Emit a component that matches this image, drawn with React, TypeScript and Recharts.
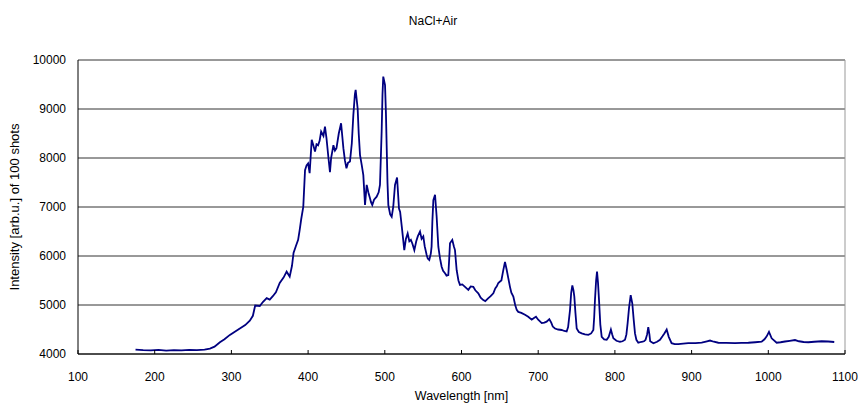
import React from 'react';
import { LineChart, Line, XAxis, YAxis, CartesianGrid, ReferenceLine } from 'recharts';

// Emission spectrum of NaCl in air, summed over 100 laser shots
const wavelengths = [
  175, 185, 195, 205, 215, 225, 235, 245, 255, 265, 272, 278, 285, 291, 298, 304, 311, 318, 324, 328,
  331, 337, 341, 346, 350, 354, 358, 363, 368, 372, 376, 379, 381, 384, 387, 389, 391, 393.7, 396, 398,
  400, 402, 404.7, 407, 409, 411, 413, 415, 417, 420, 422, 424, 426.4, 428.5, 430, 433, 435, 437, 440, 443,
  446, 448, 450, 452, 454.6, 457, 459, 461, 462, 464.6, 466, 467.7, 470, 472, 474.2, 476.4, 478.5, 480.7, 482, 483.7,
  486, 489.4, 492, 493.7, 495.9, 497, 498, 500.3, 501.5, 502.5, 503.5, 504.6, 507, 509, 511, 513.3, 516, 518.5, 520, 522,
  524, 525.4, 527.5, 529.8, 532, 534, 536, 538.5, 541, 543, 545.9, 548, 550.2, 552, 554.6, 556, 558, 560, 561, 562,
  563.3, 565.5, 567.6, 569.8, 572, 574.1, 576, 578.5, 580.5, 582.8, 584, 585, 588, 590, 591.5, 593.7, 596, 598, 601, 604.6,
  608.9, 612, 615.4, 618, 621.9, 625, 628.4, 631, 635, 638, 641.5, 644, 646, 648, 650.2, 652, 654.5, 656.7, 658.9, 661,
  663.2, 665, 667.6, 670, 672, 674, 678, 682.8, 687, 691.5, 694, 697.1, 700, 704.6, 708, 711, 714.5, 717, 719, 721.9,
  726, 730.6, 734, 737.1, 739, 741.5, 743, 744.5, 746, 747.1, 748.5, 750.2, 753, 756.7, 761, 765.4, 769, 771.9, 773, 774,
  775.5, 776.7, 778, 779.3, 781, 782.8, 786, 789.3, 792, 794.8, 796.5, 798, 802, 806.6, 810, 813.2, 815, 816.6, 818.5, 820.6,
  822.7, 824.5, 826.2, 828, 830.5, 834.9, 838, 840, 842, 843.5, 845, 846, 850.2, 855, 858.8, 862, 864.5, 867.5, 870.2, 873.9,
  878, 882.6, 889, 895.6, 905, 913.2, 920, 924, 929, 934.8, 945, 956.6, 965, 974, 983, 991.3, 995, 997.9, 1000.9, 1004.4,
  1010.9, 1016, 1021.8, 1028, 1034.8, 1040, 1046, 1052.2, 1060, 1069.6, 1078, 1086,
];

const intensity = [
  4090, 4080, 4075, 4085, 4070, 4080, 4075, 4085, 4080, 4090, 4110, 4150, 4240, 4300, 4390, 4450, 4520, 4590, 4680, 4780,
  4990, 4980, 5060, 5140, 5110, 5180, 5260, 5450, 5560, 5680, 5580, 5800, 6060, 6200, 6330, 6530, 6750, 7000, 7750, 7850,
  7890, 7690, 8370, 8250, 8130, 8280, 8260, 8350, 8540, 8450, 8640, 8400, 8020, 7710, 8000, 8260, 8150, 8200, 8500, 8710,
  8200, 7950, 7790, 7900, 7930, 8300, 8880, 9300, 9390, 9010, 8500, 8060, 7850, 7650, 7040, 7450, 7300, 7180, 7100, 7040,
  7150, 7210, 7300, 7450, 8540, 9300, 9660, 9490, 8900, 8200, 7500, 7040, 6850, 6800, 7000, 7450, 7600, 6970, 6900, 6620,
  6330, 6120, 6350, 6460, 6300, 6330, 6250, 6120, 6300, 6400, 6500, 6350, 6400, 6200, 6020, 5950, 5920, 6050, 6190, 6700,
  7140, 7250, 6800, 6190, 5950, 5780, 5700, 5650, 5600, 5610, 5950, 6260, 6330, 6200, 6120, 5710, 5500, 5410, 5420, 5370,
  5310, 5380, 5370, 5300, 5240, 5150, 5100, 5080, 5140, 5180, 5240, 5340, 5380, 5450, 5480, 5500, 5710, 5880, 5720, 5550,
  5370, 5250, 5170, 5000, 4900, 4860, 4840, 4800, 4760, 4700, 4730, 4760, 4700, 4630, 4640, 4660, 4710, 4640, 4560, 4520,
  4500, 4490, 4470, 4460, 4550, 4900, 5250, 5400, 5300, 5170, 4850, 4520, 4450, 4420, 4400, 4390, 4420, 4490, 4750, 5100,
  5500, 5680, 5450, 5100, 4600, 4350, 4300, 4290, 4350, 4500, 4400, 4320, 4270, 4250, 4260, 4290, 4400, 4630, 4950, 5200,
  5030, 4700, 4420, 4290, 4230, 4250, 4260, 4290, 4400, 4550, 4400, 4260, 4220, 4250, 4290, 4360, 4420, 4500, 4350, 4220,
  4200, 4200, 4210, 4220, 4220, 4230, 4260, 4275, 4250, 4230, 4225, 4220, 4225, 4230, 4240, 4250, 4300, 4360, 4450, 4320,
  4230, 4240, 4255, 4270, 4285, 4260, 4245, 4240, 4250, 4260, 4255, 4245,
];

const xTicks = [100, 200, 300, 400, 500, 600, 700, 800, 900, 1000, 1100];
const yTicks = [4000, 5000, 6000, 7000, 8000, 9000, 10000];

const data = wavelengths.map((w, i) => ({ w, v: intensity[i] }));

const FONT = '"Liberation Sans", Arial, sans-serif';

// Bottom axis tick: short mark pointing into the plot, label below
const XTick = (props: any) => {
  const { x, y, payload } = props;
  return (
    <g>
      <line x1={x} x2={x} y1={y} y2={y - 4} stroke="#000" strokeWidth={1} />
      <text x={x} y={y + 27} textAnchor="middle" fontSize={12} fill="#000" fontFamily={FONT}>
        {payload.value}
      </text>
    </g>
  );
};

export default function App() {
  return (
    <div style={{ position: 'absolute', left: 0, top: 0, width: 858, height: 403, background: '#fff', fontFamily: FONT }}>
      <div
        style={{
          position: 'absolute',
          left: 0,
          width: 866,
          top: 14,
          textAlign: 'center',
          fontSize: 12,
          lineHeight: '14px',
          color: '#000',
        }}
      >
        NaCl+Air
      </div>
      <LineChart
        width={858}
        height={403}
        data={data}
        margin={{ top: 60, right: 13, left: 0, bottom: 0 }}
        style={{ fontFamily: FONT }}
      >
        <CartesianGrid vertical={false} stroke="#333" strokeWidth={1} />
        <XAxis
          type="number"
          dataKey="w"
          domain={[100, 1100]}
          ticks={xTicks}
          interval={0}
          height={49}
          tickSize={0}
          tickMargin={0}
          tick={<XTick />}
          axisLine={{ stroke: '#000', strokeWidth: 1 }}
          label={{
            value: 'Wavelength [nm]',
            position: 'insideBottom',
            offset: 3,
            fontSize: 12.5,
            fill: '#000',
          }}
        />
        <YAxis
          type="number"
          domain={[4000, 10000]}
          ticks={yTicks}
          interval={0}
          width={78}
          tickSize={0}
          tickMargin={12}
          tick={{ fontSize: 12, fill: '#000' }}
          axisLine={{ stroke: '#000', strokeWidth: 1 }}
          label={{
            value: 'Intensity [arb.u.] of 100 shots',
            angle: -90,
            position: 'insideLeft',
            offset: 14,
            fontSize: 13,
            fill: '#000',
            style: { textAnchor: 'middle' },
          }}
        />
        <ReferenceLine x={1100} stroke="#999" strokeWidth={1} ifOverflow="visible" />
        <Line
          type="linear"
          dataKey="v"
          stroke="#000080"
          strokeWidth={1.8}
          dot={false}
          isAnimationActive={false}
        />
      </LineChart>
    </div>
  );
}
